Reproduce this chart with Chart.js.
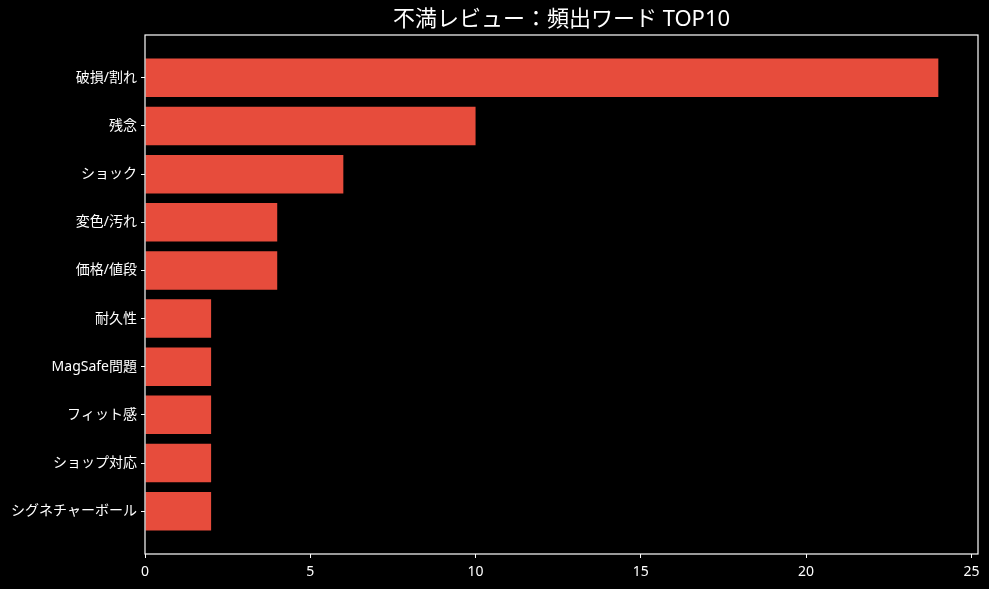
<!DOCTYPE html>
<html>
<head>
<meta charset="utf-8">
<script src="https://cdn.jsdelivr.net/npm/chart.js@4/dist/chart.umd.min.js"></script>
<style>
  html, body { margin: 0; padding: 0; background: #000; }
  canvas { display: block; }
</style>
</head>
<body>
<canvas id="chart" width="989" height="589"></canvas>
<script>
const categories = ["破損/割れ", "残念", "ショック", "変色/汚れ", "価格/値段", "耐久性", "MagSafe問題", "フィット感", "ショップ対応", "シグネチャーボール"];
const counts = [24, 10, 6, 4, 4, 2, 2, 2, 2, 2];
const xTicks = [0, 5, 10, 15, 20, 25];
const title = "不満レビュー：頻出ワード TOP10";

const FONT = "'Noto Sans', 'Noto Sans CJK JP', sans-serif";

// box around the plot (like matplotlib spines) + title centred over the plot area
const frame = {
  id: "frame",
  afterDraw(chart) {
    const { ctx, chartArea: a } = chart;
    ctx.save();
    ctx.strokeStyle = "#fff";
    ctx.lineWidth = 1.2;
    ctx.strokeRect(a.left, a.top, a.right - a.left, a.bottom - a.top);
    ctx.fillStyle = "#fff";
    ctx.font = "22px " + FONT;
    ctx.textAlign = "center";
    ctx.textBaseline = "middle";
    ctx.fillText(title, (a.left + a.right) / 2, 20);
    ctx.restore();
  }
};

new Chart(document.getElementById("chart"), {
  type: "bar",
  data: {
    datasets: [{
      data: counts.map((v, i) => ({ x: v, y: i })),
      backgroundColor: "#e74c3c",
      borderWidth: 0,
      barPercentage: 0.8,
      categoryPercentage: 1.0
    }]
  },
  options: {
    indexAxis: "y",
    responsive: false,
    animation: false,
    layout: { padding: { top: 35, right: 11, bottom: 0, left: 0 } },
    plugins: {
      legend: { display: false },
      tooltip: { enabled: false },
      title: { display: false }
    },
    scales: {
      x: {
        type: "linear",
        min: 0,
        max: 25.2,
        afterBuildTicks: s => { s.ticks = xTicks.map(v => ({ value: v })); },
        afterFit: s => { s.height = 35; },
        border: { display: false },
        grid: { drawOnChartArea: false, color: "#fff", tickLength: 4, tickWidth: 1 },
        ticks: { color: "#fff", font: { family: FONT, size: 14 }, padding: 6, maxRotation: 0 }
      },
      y: {
        type: "linear",
        reverse: true,
        offset: false,
        min: -0.89,
        max: 9.89,
        afterBuildTicks: s => { s.ticks = categories.map((c, i) => ({ value: i })); },
        afterFit: s => { s.width = 145; },
        border: { display: false },
        grid: { offset: false, drawOnChartArea: false, color: "#fff", tickLength: 4, tickWidth: 1 },
        ticks: {
          color: "#fff",
          font: { family: FONT, size: 14 },
          padding: 4,
          callback: v => categories[v]
        }
      }
    }
  },
  plugins: [frame]
});
</script>
</body>
</html>
